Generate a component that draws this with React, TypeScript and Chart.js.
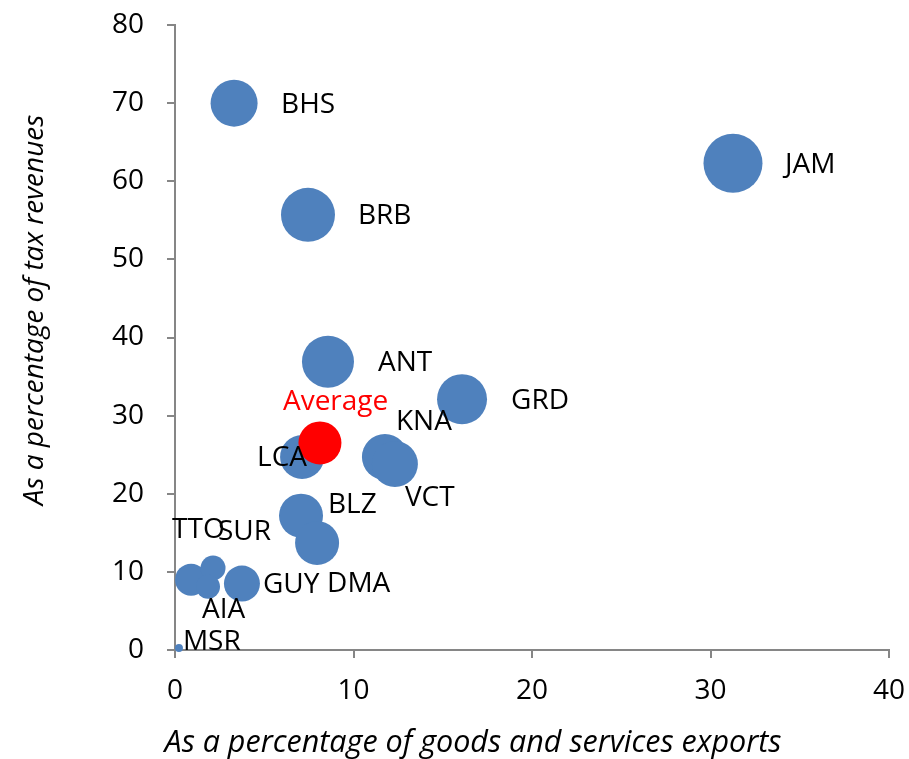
import React, { useEffect, useRef } from "react";
import { Chart, registerables } from "chart.js";

Chart.register(...registerables);

// ---- Data ----
const countryCodes = ["BHS", "BRB", "JAM", "ANT", "GRD", "KNA", "LCA", "VCT", "BLZ", "DMA", "TTO", "SUR", "AIA", "GUY", "MSR"];
const pctExports = [3.31, 7.45, 31.26, 8.57, 16.08, 11.76, 7.12, 12.32, 7.06, 7.96, 0.9, 2.13, 1.85, 3.75, 0.22];
const pctTaxRevenues = [70.0, 55.7, 62.3, 36.9, 32.1, 24.7, 24.7, 23.8, 17.2, 13.7, 9.0, 10.5, 8.1, 8.5, 0.26];
const bubbleSizes = [23.5, 27, 29.5, 26, 25, 23, 22, 23, 22, 22, 16, 12.5, 12, 18, 4];

const averageLabel = ["Average"];
const averageExports = [8.12];
const averageTax = [26.5];
const averageSize = [21.5];

const xTicks = [0, 10, 20, 30, 40];
const yTicks = [0, 10, 20, 30, 40, 50, 60, 70, 80];
const xTitle = "As a percentage of goods and services exports";
const yTitle = "As a percentage of tax revenues";

// label offsets (pixels, relative to bubble centre), left-aligned text
const countryLabelOffsets: [number, number][] = [
  [47, 2], [50, 1], [52, 2], [50, 1], [49, 2], [11, -35], [-45, 1], [10, 34],
  [27, -11], [10, 41], [-19, -50], [5, -36], [-6, 23], [21, 1], [4, -6],
];
const averageLabelOffsets: [number, number][] = [[-37, -41]];

const FONT = "'Open Sans', Lato, sans-serif";
const FONT_SIZE = 28;
const X_TITLE_SIZE = 30.5;
const Y_TITLE_SIZE = 28;

const labelPlugin = {
  id: "bubbleLabels",
  afterDatasetsDraw(chart: any) {
    const ctx = chart.ctx;
    ctx.save();
    ctx.font = `${FONT_SIZE}px ${FONT}`;
    ctx.textAlign = "left";
    ctx.textBaseline = "middle";
    chart.data.datasets.forEach((ds: any, di: number) => {
      const meta = chart.getDatasetMeta(di);
      const labels: string[] = ds.pointLabels;
      const offs: [number, number][] = ds.labelOffsets;
      ctx.fillStyle = ds.labelColor;
      meta.data.forEach((el: any, i: number) => {
        const [dx, dy] = offs[i];
        ctx.fillText(labels[i], el.x + dx, el.y + dy);
      });
    });
    ctx.restore();
  },
  afterDraw(chart: any) {
    const ctx = chart.ctx;
    ctx.save();
    ctx.fillStyle = "#000";
    ctx.textAlign = "center";
    ctx.textBaseline = "middle";
    ctx.font = `italic ${X_TITLE_SIZE}px ${FONT}`;
    ctx.fillText(xTitle, 473, 743);
    ctx.font = `italic ${Y_TITLE_SIZE}px ${FONT}`;
    ctx.translate(35, 310);
    ctx.rotate(-Math.PI / 2);
    ctx.fillText(yTitle, 0, 0);
    ctx.restore();
  },
};

export default function App() {
  const canvasRef = useRef<HTMLCanvasElement | null>(null);

  useEffect(() => {
    if (!canvasRef.current) return;
    const chart = new Chart(canvasRef.current, {
      type: "bubble",
      data: {
        datasets: [
          {
            label: "Average",
            data: averageExports.map((x, i) => ({ x, y: averageTax[i], r: averageSize[i] })),
            backgroundColor: "#FF0000",
            borderWidth: 0,
            clip: false,
            order: 0,
            pointLabels: averageLabel,
            labelOffsets: averageLabelOffsets,
            labelColor: "#FF0000",
          } as any,
          {
            label: "Countries",
            data: pctExports.map((x, i) => ({ x, y: pctTaxRevenues[i], r: bubbleSizes[i] })),
            backgroundColor: "#4F81BD",
            borderWidth: 0,
            clip: false,
            order: 1,
            pointLabels: countryCodes,
            labelOffsets: countryLabelOffsets,
            labelColor: "#000000",
          } as any,
        ],
      },
      options: {
        responsive: false,
        animation: false,
        layout: { autoPadding: false, padding: { left: 0, top: 25, right: 20, bottom: 0 } },
        plugins: {
          legend: { display: false },
          tooltip: { enabled: false },
          title: { display: false },
        },
        scales: {
          x: {
            type: "linear",
            min: 0,
            max: 40,
            afterBuildTicks: (scale: any) => {
              scale.ticks = xTicks.map((v) => ({ value: v }));
            },
            afterFit: (scale: any) => {
              scale.height = 109;
              scale.paddingLeft = 0;
              scale.paddingRight = 0;
            },
            ticks: {
              color: "#000",
              font: { family: FONT, size: FONT_SIZE },
              padding: 16,
              maxRotation: 0,
            },
            grid: { drawOnChartArea: false, color: "#868686", lineWidth: 2, tickLength: 8 },
            border: { color: "#868686", width: 2 },
          },
          y: {
            type: "linear",
            min: 0,
            max: 80,
            afterBuildTicks: (scale: any) => {
              scale.ticks = yTicks.map((v) => ({ value: v }));
            },
            afterFit: (scale: any) => {
              scale.width = 175;
              scale.paddingTop = 0;
              scale.paddingBottom = 0;
            },
            ticks: {
              color: "#000",
              font: { family: FONT, size: FONT_SIZE },
              padding: 23,
            },
            grid: { drawOnChartArea: false, color: "#868686", lineWidth: 2, tickLength: 8 },
            border: { color: "#868686", width: 2 },
          },
        },
      } as any,
      plugins: [labelPlugin],
    });
    return () => chart.destroy();
  }, []);

  return (
    <div style={{ position: "fixed", left: 0, top: 0, width: 909, height: 759, background: "#fff" }}>
      <canvas ref={canvasRef} width={909} height={759} style={{ display: "block" }} />
    </div>
  );
}
